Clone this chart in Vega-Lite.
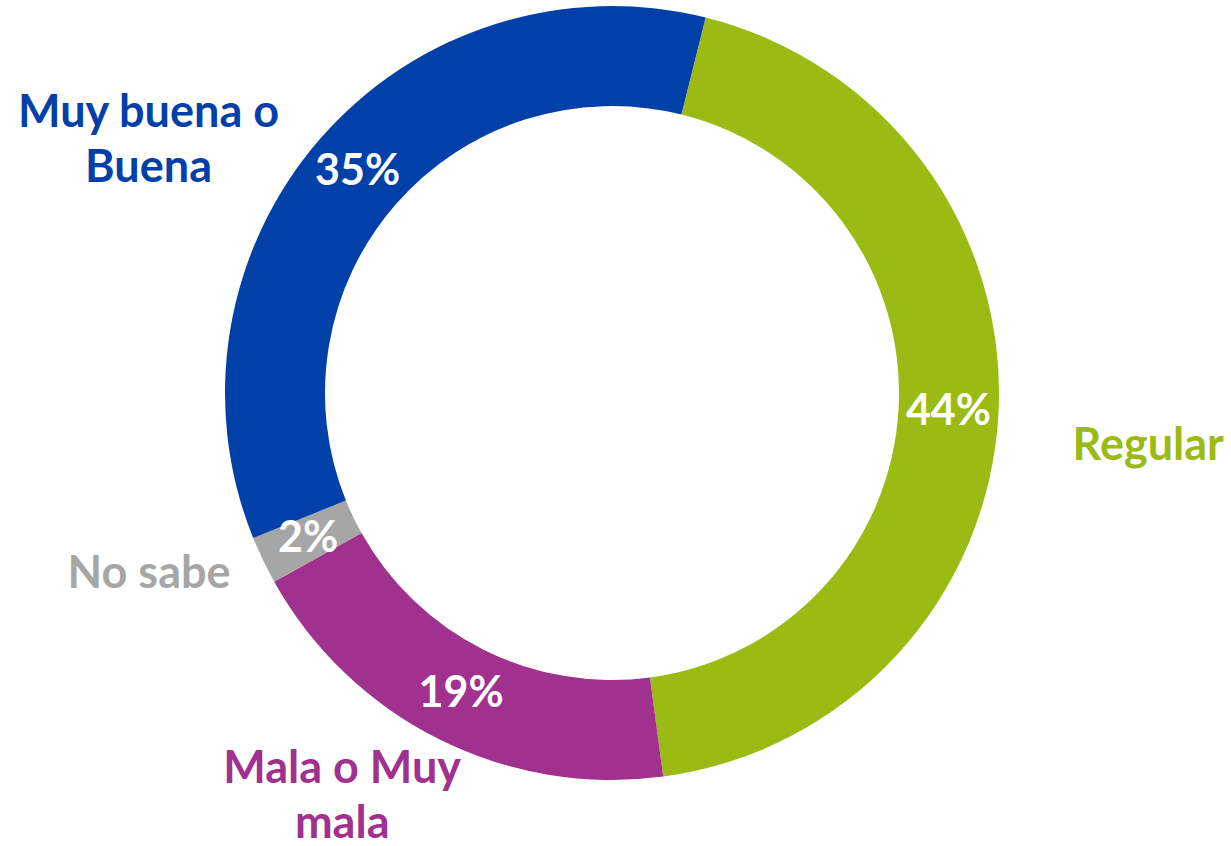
{
  "$schema": "https://vega.github.io/schema/vega-lite/v6.json",
  "width": 1224,
  "height": 786,
  "autosize": {"type": "none"},
  "padding": {"left": 0, "top": 0, "right": 7, "bottom": 60},
  "background": "white",
  "view": {"stroke": null},
  "data": {
    "values": [
      {"cat": "Regular", "value": 44, "pct": "44%", "label": "Regular", "order": 1},
      {"cat": "Mala o Muy mala", "value": 19, "pct": "19%", "label": "Mala o Muy\nmala", "order": 2},
      {"cat": "No sabe", "value": 2, "pct": "2%", "label": "No sabe", "order": 3},
      {"cat": "Muy buena o Buena", "value": 35, "pct": "35%", "label": "Muy buena o\nBuena", "order": 4}
    ]
  },
  "encoding": {
    "theta": {"field": "value", "type": "quantitative", "stack": true, "scale": {"range": [0.2443, 6.5275]}},
    "order": {"field": "order", "type": "quantitative"},
    "color": {
      "field": "cat", "type": "nominal", "legend": null,
      "scale": {
        "domain": ["Regular", "Mala o Muy mala", "No sabe", "Muy buena o Buena"],
        "range": ["#9BBB14", "#A0318F", "#A6A6A6", "#0040A8"]
      }
    }
  },
  "layer": [
    {"mark": {"type": "arc", "outerRadius": 387, "innerRadius": 287}},
    {
      "mark": {"type": "text", "radius": 337, "font": "Lato", "fontWeight": "bold", "fontSize": 43, "fill": "white", "align": "center", "baseline": "middle"},
      "encoding": {"text": {"field": "pct"}, "color": {"value": "white"}}
    },
    {
      "mark": {"type": "text", "radius": 520, "dx": -71, "dy": 61, "font": "Lato", "fontWeight": "bold", "fontSize": 45, "lineHeight": 55, "lineBreak": "\n", "align": "center", "baseline": "middle"},
      "encoding": {"text": {"condition": {"test": "datum.cat === 'Muy buena o Buena'", "field": "label"}, "value": ""}}
    },
    {
      "mark": {"type": "text", "radius": 520, "dx": 17, "dy": 24, "font": "Lato", "fontWeight": "bold", "fontSize": 45, "lineHeight": 55, "lineBreak": "\n", "align": "center", "baseline": "middle"},
      "encoding": {"text": {"condition": {"test": "datum.cat === 'Regular'", "field": "label"}, "value": ""}}
    },
    {
      "mark": {"type": "text", "radius": 520, "dx": 6, "dy": -44, "font": "Lato", "fontWeight": "bold", "fontSize": 45, "lineHeight": 55, "lineBreak": "\n", "align": "center", "baseline": "middle"},
      "encoding": {"text": {"condition": {"test": "datum.cat === 'No sabe'", "field": "label"}, "value": ""}}
    },
    {
      "mark": {"type": "text", "radius": 520, "dx": -37, "dy": -89, "font": "Lato", "fontWeight": "bold", "fontSize": 45, "lineHeight": 55, "lineBreak": "\n", "align": "center", "baseline": "middle"},
      "encoding": {"text": {"condition": {"test": "datum.cat === 'Mala o Muy mala'", "field": "label"}, "value": ""}}
    }
  ]
}
